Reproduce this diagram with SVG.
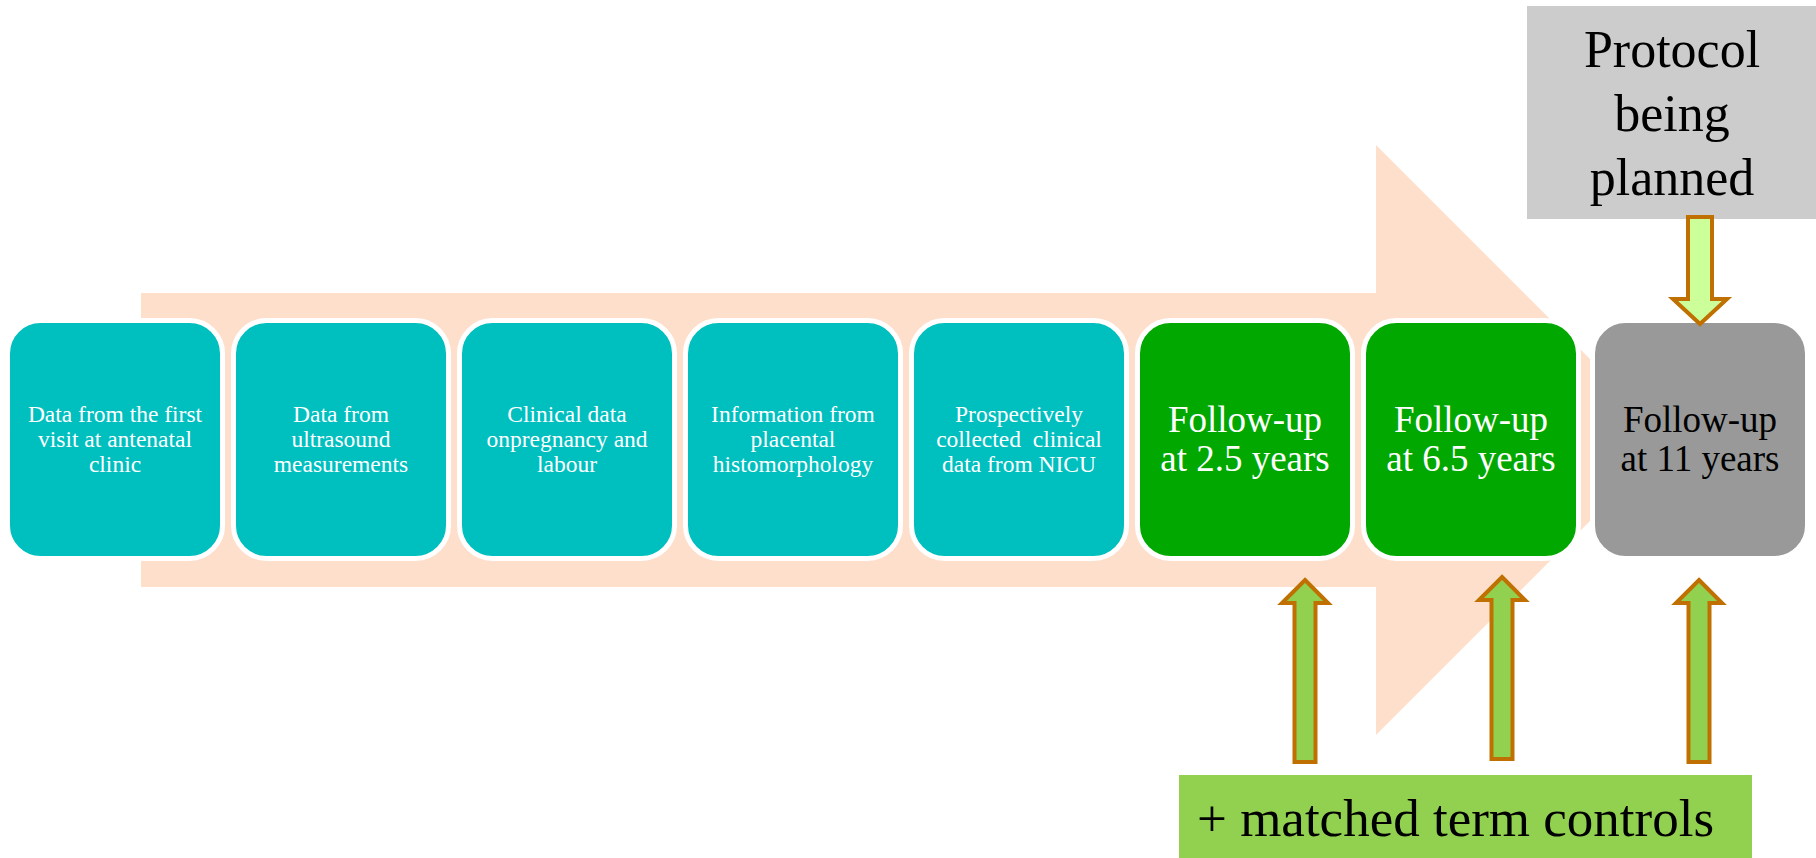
<svg xmlns="http://www.w3.org/2000/svg" width="1816" height="858" viewBox="0 0 1816 858">
<style>
.box{stroke:#fff;stroke-width:5}
.teal{fill:#00BFBF}
.grn{fill:#00A800}
.gry{fill:#999999}
.t{font-family:"Liberation Serif","Times New Roman",serif;text-anchor:middle}
.small{font-size:23.5px;fill:#fff}
.big{font-size:37px}
.w{fill:#fff}
.k{fill:#000}
.arr{stroke:#BF7000;stroke-width:4;stroke-linejoin:miter}
</style>
<rect width="1816" height="858" fill="#fff"/>
<g id="timeline-arrow">
<polygon points="141,293 1376,293 1376,145 1671,440 1376,735 1376,587 141,587" fill="#FDDFCC"/>
</g>
<g id="node1"><rect class="box teal" x="7.5" y="320.5" width="215" height="238" rx="33"/>
<text class="t small" x="115" y="422">Data from the first</text><text class="t small" x="115" y="447">visit at antenatal</text><text class="t small" x="115" y="472">clinic</text></g>
<g id="node2"><rect class="box teal" x="233.5" y="320.5" width="215" height="238" rx="33"/>
<text class="t small" x="341" y="422">Data from</text><text class="t small" x="341" y="447">ultrasound</text><text class="t small" x="341" y="472">measurements</text></g>
<g id="node3"><rect class="box teal" x="459.5" y="320.5" width="215" height="238" rx="33"/>
<text class="t small" x="567" y="422">Clinical data</text><text class="t small" x="567" y="447">onpregnancy and</text><text class="t small" x="567" y="472">labour</text></g>
<g id="node4"><rect class="box teal" x="685.5" y="320.5" width="215" height="238" rx="33"/>
<text class="t small" x="793" y="422">Information from</text><text class="t small" x="793" y="447">placental</text><text class="t small" x="793" y="472">histomorphology</text></g>
<g id="node5"><rect class="box teal" x="911.5" y="320.5" width="215" height="238" rx="33"/>
<text class="t small" x="1019" y="422">Prospectively</text><text class="t small" x="1019" y="447" xml:space="preserve">collected  clinical</text><text class="t small" x="1019" y="472">data from NICU</text></g>
<g id="node6"><rect class="box grn" x="1137.5" y="320.5" width="215" height="238" rx="33"/>
<text class="t big w" x="1245" y="432">Follow-up</text><text class="t big w" x="1245" y="471">at 2.5 years</text></g>
<g id="node7"><rect class="box grn" x="1363.5" y="320.5" width="215" height="238" rx="33"/>
<text class="t big w" x="1471" y="432">Follow-up</text><text class="t big w" x="1471" y="471">at 6.5 years</text></g>
<g id="node8"><rect class="box gry" x="1592.5" y="320.5" width="215" height="238" rx="33"/>
<text class="t big k" x="1700" y="432">Follow-up</text><text class="t big k" x="1700" y="471">at 11 years</text></g>
<g id="protocol"><rect x="1527" y="6" width="289" height="213" fill="#CCCCCC"/>
<text class="t k" font-size="52" x="1672" y="67">Protocol</text><text class="t k" font-size="52" x="1672" y="131">being</text><text class="t k" font-size="52" x="1672" y="195">planned</text></g>
<g id="controls"><rect x="1179" y="775" width="573" height="83" fill="#92D050"/>
<text font-family="Liberation Serif, Times New Roman, serif" font-size="53" fill="#000" x="1197" y="836">+ matched term controls</text></g>
<g id="connectors">
<polygon class="arr" fill="#CCFF99" points="1688,217 1712,217 1712,299 1727,299 1700,324 1673,299 1688,299"/>
<polygon class="arr" fill="#92D050" points="1305,580 1328,603 1315.5,603 1315.5,762 1294.5,762 1294.5,603 1282,603"/>
<polygon class="arr" fill="#92D050" points="1502,577 1525,600 1512.5,600 1512.5,759 1491.5,759 1491.5,600 1479,600"/>
<polygon class="arr" fill="#92D050" points="1699,580 1722,603 1709.5,603 1709.5,762 1688.5,762 1688.5,603 1676,603"/>
</g>
</svg>
